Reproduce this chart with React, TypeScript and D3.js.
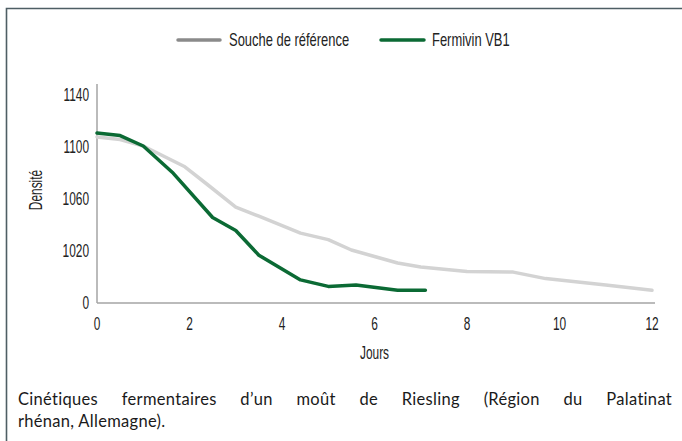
import * as d3 from 'd3'
import { useEffect, useRef, type ReactElement, type ReactNode } from 'react'

// days / density readings
const refDays = [0, 0.5, 1, 1.9, 2.4, 3, 3.5, 4.4, 5, 5.5, 6, 6.5, 7, 8, 9, 9.7, 11, 12]
const refDensity = [1107, 1105, 1100, 1084, 1070, 1053, 1046, 1033, 1028, 1020, 1015, 1010, 1007, 1003.5, 1003, 998, 993, 989]

const vbDays = [0, 0.5, 1, 1.65, 2.5, 3, 3.5, 4.4, 5, 5.6, 6.5, 7.1]
const vbDensity = [1110, 1108, 1100, 1079, 1045, 1035, 1016, 997, 992, 993, 989, 989]

const xTicks = [0, 2, 4, 6, 8, 10, 12]
const yTicks = [980, 1020, 1060, 1100, 1140]
const yTickLabels = ['0', '1020', '1060', '1100', '1140']

const seriesNames = ['Souche de référence', 'Fermivin VB1']
const captionLines = [
  'Cinétiques fermentaires d’un moût de Riesling (Région du Palatinat',
  'rhénan, Allemagne).',
]

const width = 682
const height = 441
const greenColor = '#0b6a34'
const greyColor = '#d3d3d3'

type Pt = { x: number; y: number }

// condensed label: no narrow font installed, so squeeze Liberation Sans horizontally
function NText({
  x,
  y,
  anchor = 'start',
  rotate = 0,
  squeeze = 0.68,
  children,
}: {
  x: number
  y: number
  anchor?: 'start' | 'middle' | 'end'
  rotate?: number
  squeeze?: number
  children: ReactNode
}): ReactElement {
  return (
    <text
      transform={`translate(${x},${y}) rotate(${rotate}) scale(${squeeze},1)`}
      textAnchor={anchor}
      fontFamily='"Liberation Sans", Arial, sans-serif'
      fontSize={17.5}
      fill="#222"
    >
      {children}
    </text>
  )
}

export default function App(): ReactElement {
  const firstLineRef = useRef<SVGTextElement>(null)

  const xScale = d3.scaleLinear().domain([0, 12]).range([97, 652])
  const yScale = d3.scaleLinear().domain([980, 1140]).range([302, 94])

  const line = d3
    .line<Pt>()
    .x((d) => xScale(d.x))
    .y((d) => yScale(d.y))

  const refPts = refDays.map((x, i) => ({ x, y: refDensity[i]! }))
  const vbPts = vbDays.map((x, i) => ({ x, y: vbDensity[i]! }))

  // justify first caption line by stretching word spacing
  useEffect(() => {
    const el = firstLineRef.current
    if (!el) return
    el.setAttribute('word-spacing', '0')
    const natural = el.getComputedTextLength()
    const words = captionLines[0]!.split(' ').length
    const extra = (672 - 18 - natural) / (words - 1)
    if (extra > 0) el.setAttribute('word-spacing', String(extra))
  }, [])

  const plotMid = (xScale.range()[0]! + xScale.range()[1]!) / 2

  return (
    <svg
      width={width}
      height={height}
      style={{ position: 'absolute', left: 0, top: 0, background: '#fff' }}
    >
      {/* frame */}
      <path d={`M6.5,${height} V8.5 H${width}`} fill="none" stroke="#4e5e64" strokeWidth={1.6} />

      {/* legend */}
      <line x1={178} x2={220} y1={40} y2={40} stroke="#8a8a8a" strokeWidth={3.5} strokeLinecap="round" />
      <NText x={229} y={46} squeeze={0.74}>{seriesNames[0]}</NText>
      <line x1={381} x2={424} y1={40} y2={40} stroke={greenColor} strokeWidth={3.5} strokeLinecap="round" />
      <NText x={432} y={46} squeeze={0.74}>{seriesNames[1]}</NText>

      {/* axes */}
      <g stroke="#a5a5a5" strokeWidth={1.5} fill="none">
        <line x1={97} x2={97} y1={84} y2={303} />
        <line x1={97} x2={655} y1={303} y2={303} />
      </g>

      {yTicks.map((t, i) => (
        <NText key={t} x={89} y={yScale(t) + 6.5} anchor="end">
          {yTickLabels[i]}
        </NText>
      ))}
      {xTicks.map((t) => (
        <NText key={t} x={xScale(t)} y={330} anchor="middle">
          {t}
        </NText>
      ))}
      <NText x={plotMid} y={359} anchor="middle">Jours</NText>
      <NText x={42} y={190} anchor="middle" rotate={-90}>Densité</NText>

      {/* series */}
      <path d={line(refPts) ?? ''} fill="none" stroke={greyColor} strokeWidth={3.5} strokeLinejoin="round" strokeLinecap="round" />
      <path d={line(vbPts) ?? ''} fill="none" stroke={greenColor} strokeWidth={3.5} strokeLinejoin="round" strokeLinecap="round" />

      {/* caption */}
      <g fontFamily='"Lato", "Open Sans", sans-serif' fontSize={16.5} fill="#1a1a1a" letterSpacing={0.3}>
        <text ref={firstLineRef} x={18} y={405}>{captionLines[0]}</text>
        <text x={18} y={427}>{captionLines[1]}</text>
      </g>
    </svg>
  )
}
